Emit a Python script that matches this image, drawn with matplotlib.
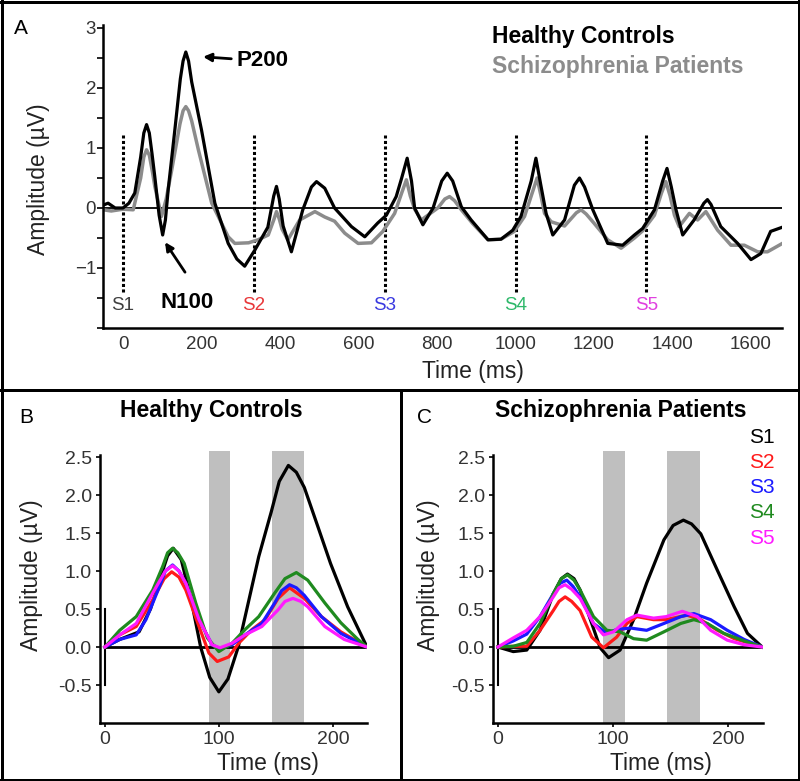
import matplotlib
matplotlib.use("Agg")
import matplotlib.pyplot as plt
from matplotlib.lines import Line2D
import numpy as np

plt.rcParams['font.family'] = ['Liberation Sans', 'DejaVu Sans']
plt.rcParams['lines.solid_joinstyle'] = 'round'

# Panel A: grand average waveforms (ms, uV)
hc_t = [-50, -38, -20, 0, 15, 30, 45, 53, 60, 67, 74, 81, 92, 101, 108, 115, 132, 146, 153,
        160, 167, 175, 200, 234, 268, 290, 310, 336, 369, 384, 391, 398, 408, 429, 458, 480,
        493, 514, 539, 582, 616, 649, 671, 696, 710, 724, 735, 743, 764, 790, 812, 826, 840,
        862, 887, 930, 963, 993, 1014, 1040, 1052, 1064, 1078, 1095, 1125, 1150, 1163, 1176,
        1197, 1235, 1273, 1303, 1324, 1354, 1375, 1386, 1397, 1409, 1426, 1455, 1480, 1489,
        1498, 1523, 1566, 1600, 1625, 1650, 1680]
hc_amp = [0.05, 0.08, 0.0, 0.0, 0.08, 0.25, 0.85, 1.25, 1.39, 1.25, 0.9, 0.52, -0.12, -0.45,
          -0.2, 0.3, 1.3, 2.15, 2.45, 2.6, 2.45, 2.1, 1.3, 0.08, -0.59, -0.85, -0.97, -0.7,
          -0.32, 0.2, 0.36, 0.15, -0.3, -0.73, -0.03, 0.35, 0.44, 0.33, 0.0, -0.31, -0.48,
          -0.25, -0.12, 0.19, 0.5, 0.83, 0.45, 0.0, -0.28, 0.0, 0.45, 0.58, 0.45, 0.02, -0.2,
          -0.53, -0.52, -0.37, -0.14, 0.45, 0.83, 0.4, -0.09, -0.45, -0.2, 0.38, 0.5, 0.35,
          -0.03, -0.59, -0.62, -0.45, -0.34, -0.03, 0.45, 0.66, 0.35, -0.03, -0.45, -0.2,
          0.08, 0.14, 0.06, -0.31, -0.59, -0.86, -0.76, -0.39, -0.32]

sz_t = [-50, -30, 0, 26, 45, 53, 60, 67, 75, 81, 98, 110, 124, 145, 153, 160, 167, 175, 192,
        226, 268, 285, 320, 344, 370, 384, 391, 398, 405, 420, 450, 489, 514, 539, 565, 599,
        633, 662, 692, 710, 722, 732, 743, 760, 802, 820, 832, 845, 862, 891, 930, 963, 997,
        1023, 1045, 1055, 1065, 1074, 1091, 1125, 1155, 1167, 1180, 1201, 1235, 1269, 1303,
        1324, 1354, 1372, 1383, 1394, 1405, 1417, 1443, 1464, 1485, 1515, 1549, 1583, 1617,
        1642, 1680]
sz_amp = [-0.03, -0.05, -0.02, -0.03, 0.5, 0.85, 0.97, 0.88, 0.6, 0.36, -0.14, 0.15, 0.63,
          1.4, 1.62, 1.69, 1.62, 1.45, 0.97, 0.08, -0.48, -0.59, -0.58, -0.53, -0.45, -0.2,
          -0.06, -0.18, -0.35, -0.53, -0.2, -0.06, -0.15, -0.22, -0.42, -0.59, -0.58, -0.39,
          -0.09, 0.25, 0.47, 0.2, -0.02, -0.2, 0.0, 0.15, 0.19, 0.12, -0.03, -0.26, -0.53,
          -0.52, -0.39, -0.14, 0.3, 0.5, 0.2, -0.09, -0.23, -0.3, -0.08, -0.03, -0.1, -0.26,
          -0.53, -0.67, -0.5, -0.38, -0.12, 0.25, 0.44, 0.2, -0.12, -0.31, -0.09, -0.2, -0.06,
          -0.37, -0.62, -0.62, -0.73, -0.73, -0.59]

stim_t = [0, 333, 667, 1000, 1333]
stim_labels = ["S1", "S2", "S3", "S4", "S5"]
stim_colors_a = ["#404040", "#e8383a", "#3a3ae0", "#2eb86a", "#e040e0"]

# Panels B/C: response to each stimulus (ms, uV)
hc_s = {
    "S1": ([0, 13, 30, 40, 48, 55, 60, 67, 76, 84, 92, 100, 108, 117, 135, 146, 153, 161, 168, 175, 187, 198, 213, 230],
           [0, 0.1, 0.2, 0.5, 0.88, 1.2, 1.3, 1.15, 0.6, 0.0, -0.4, -0.59, -0.42, 0.0, 1.19, 1.78, 2.18, 2.39, 2.3, 2.1, 1.58, 1.1, 0.53, 0]),
    "S2": ([0, 13, 27.5, 42, 52, 58.6, 65, 71, 82.6, 91.3, 98.6, 108.7, 117.4, 129, 140.6, 152, 162, 175, 190, 207, 230],
           [0, 0.16, 0.27, 0.62, 0.9, 0.99, 0.92, 0.75, 0.27, -0.08, -0.19, -0.13, 0.05, 0.23, 0.36, 0.64, 0.78, 0.64, 0.40, 0.2, 0]),
    "S3": ([0, 13, 27.5, 36, 48, 53, 59.4, 65, 71, 82.6, 94, 101, 111.6, 123, 137.7, 149, 155, 162, 168, 175, 190, 207, 230],
           [0, 0.1, 0.16, 0.36, 0.8, 1.0, 1.08, 1.0, 0.84, 0.36, 0.03, -0.02, 0.03, 0.16, 0.31, 0.58, 0.74, 0.82, 0.78, 0.68, 0.40, 0.18, 0]),
    "S4": ([0, 13, 27.5, 42, 50.7, 55, 59.4, 64, 69.6, 79.7, 89.9, 100, 111.6, 123, 135, 149, 158, 168, 178, 193, 207, 222, 230],
           [0, 0.22, 0.4, 0.75, 1.06, 1.24, 1.30, 1.24, 1.1, 0.58, 0.12, -0.06, 0.05, 0.23, 0.4, 0.71, 0.90, 0.98, 0.88, 0.58, 0.32, 0.1, 0]),
    "S5": ([0, 13, 27.5, 42, 53, 59.4, 65, 71, 82.6, 94, 101, 111.6, 123, 137.7, 152, 158, 165, 172, 178, 193, 210, 230],
           [0, 0.16, 0.31, 0.71, 1.0, 1.07, 1.0, 0.84, 0.36, 0.03, -0.01, 0.05, 0.16, 0.27, 0.49, 0.6, 0.64, 0.6, 0.53, 0.27, 0.1, 0]),
}
sz_s = {
    "S1": ([0, 13.3, 25, 36.5, 48, 55, 60.3, 66, 71.3, 81.4, 88.7, 96, 106, 117.7, 129, 144, 152, 160.9, 168, 176, 190.4, 205, 216.5, 229.3],
           [0, -0.06, -0.04, 0.22, 0.7, 0.9, 0.96, 0.9, 0.75, 0.31, -0.01, -0.14, -0.04, 0.36, 0.84, 1.41, 1.6, 1.67, 1.62, 1.49, 1.01, 0.53, 0.18, 0]),
    "S2": ([0, 13.3, 25, 36.5, 48, 53, 58.3, 64, 71.3, 81.4, 91.6, 103, 112, 120.6, 135, 146, 164, 176, 190.4, 205, 229.3],
           [0, 0.01, 0.01, 0.22, 0.48, 0.6, 0.66, 0.6, 0.48, 0.13, -0.01, 0.13, 0.31, 0.4, 0.36, 0.36, 0.42, 0.36, 0.22, 0.11, 0]),
    "S3": ([0, 13.3, 25, 36.5, 48, 54, 59.7, 65, 71.3, 82.9, 94.5, 103, 115, 129, 144, 158.6, 170, 184.6, 199, 213.6, 229.3],
           [0, 0.08, 0.17, 0.4, 0.7, 0.84, 0.88, 0.8, 0.66, 0.31, 0.18, 0.23, 0.25, 0.22, 0.31, 0.4, 0.44, 0.36, 0.22, 0.1, 0]),
    "S4": ([0, 13.3, 25, 36.5, 48, 55, 60.3, 66, 71.3, 82.9, 94.5, 106, 117.7, 129, 144, 158.6, 170, 181.7, 196, 213.6, 229.3],
           [0, 0.01, 0.06, 0.31, 0.7, 0.9, 0.95, 0.88, 0.75, 0.4, 0.22, 0.2, 0.11, 0.09, 0.2, 0.31, 0.36, 0.31, 0.18, 0.08, 0]),
    "S5": ([0, 13.3, 25, 36.5, 48, 53, 58.3, 64, 71.3, 82.9, 91.6, 100.3, 112, 120.6, 135, 146, 160, 173, 184.6, 199, 213.6, 229.3],
           [0, 0.12, 0.22, 0.4, 0.66, 0.78, 0.82, 0.76, 0.64, 0.31, 0.16, 0.2, 0.36, 0.42, 0.38, 0.40, 0.47, 0.40, 0.22, 0.09, 0.03, 0]),
}
s_colors = {"S1": "black", "S2": "#ff1a1a", "S3": "#1a1aff", "S4": "#1f8a1f", "S5": "#ff1aff"}
windows = [(91, 110), (147, 175)]  # N100 and P200 windows

tick_col = "#333333"
lab_size = 16.5
W, H = 800, 781

fig = plt.figure(figsize=(8, 7.81), dpi=100)


def fx(px):
    return px / W


def fy(py):
    return 1 - py / H


# ---------------- Panel A ----------------
axA = fig.add_axes([fx(103), fy(328), fx(782) - fx(103), fy(25) - fy(328)])
axA.set_xlim(-51, 1679)
axA.set_ylim(-2.0, 3.05)
axA.axhline(0, color="black", lw=1.3, zorder=1)
axA.plot(sz_t, sz_amp, color="#8c8c8c", lw=2.5, zorder=2)
axA.plot(hc_t, hc_amp, color="black", lw=2.3, zorder=3)
for t, lab, c in zip(stim_t, stim_labels, stim_colors_a):
    axA.plot([t, t], [-1.4, 1.22], color="black", lw=2.2, linestyle=(0, (1, 0.8)), zorder=1)
    axA.text(t, -1.62, lab, color=c, fontsize=13.5, ha="center", va="center")
axA.annotate("P200", xy=(204, 2.52), xytext=(290, 2.45), fontsize=16, fontweight="bold",
             va="center", ha="left",
             arrowprops=dict(arrowstyle="-|>", color="black", lw=2, shrinkA=2, shrinkB=0,
                             mutation_scale=12))
axA.annotate("", xy=(107, -0.57), xytext=(158, -1.07),
             arrowprops=dict(arrowstyle="-|>", color="black", lw=2, shrinkA=0, shrinkB=0,
                             mutation_scale=12))
axA.text(163, -1.57, "N100", fontsize=16, fontweight="bold", ha="center", va="center")
axA.set_xticks(range(0, 1601, 200))
axA.set_yticks([-1, 0, 1, 2, 3])
axA.set_yticks(np.arange(-2, 3.01, 0.5), minor=True)
axA.tick_params(axis="x", length=0, labelsize=13.5, labelcolor=tick_col, pad=6)
axA.tick_params(axis="y", length=4, width=1.2, labelsize=13.5, labelcolor=tick_col, pad=1)
axA.tick_params(axis="y", which="minor", length=4, width=1.2)
for s in ["top", "right"]:
    axA.spines[s].set_visible(False)
axA.spines["left"].set_linewidth(1.8)
axA.spines["bottom"].set_linewidth(1.8)
axA.set_xlabel("Time (ms)", fontsize=lab_size, color="#222222")
axA.xaxis.set_label_coords(0.545, -0.105)
axA.set_ylabel("Amplitude (µV)", fontsize=lab_size, color="#222222")
axA.yaxis.set_label_coords(-0.078, 0.49)
fig.text(fx(492), fy(37), "Healthy Controls", fontsize=16.5, fontweight="bold",
         color="black", va="center")
fig.text(fx(492), fy(67), "Schizophrenia Patients", fontsize=16.5, fontweight="bold",
         color="#8c8c8c", va="center")


# ---------------- Panels B and C ----------------
def erp_panel(left_px, right_px, series, title, title_x, letter, letter_x, ylab_x):
    ax = fig.add_axes([fx(left_px), fy(723), fx(right_px) - fx(left_px), fy(451) - fy(723)])
    ax.set_xlim(-4.3, 230)
    ax.set_ylim(-1.0, 2.58)
    for a, b in windows:
        ax.axvspan(a, b, color="#bfbfbf", lw=0, zorder=0)
    ax.plot([0, 228], [0, 0], color="black", lw=2, zorder=1)
    ax.plot([0, 0], [-0.5, 0.5], color="black", lw=1.5, zorder=1)
    for k in ["S1", "S2", "S3", "S4", "S5"]:
        t, a = series[k]
        ax.plot(t, a, color=s_colors[k], lw=2.3, zorder=2)
    ax.set_xticks([0, 100, 200])
    ax.set_yticks(np.arange(-0.5, 2.51, 0.5))
    ax.yaxis.set_major_formatter(matplotlib.ticker.FormatStrFormatter("%.1f"))
    ax.tick_params(length=3, width=1.2, labelsize=14, labelcolor=tick_col, pad=3)
    for s in ["top", "right"]:
        ax.spines[s].set_visible(False)
    ax.spines["left"].set_linewidth(1.8)
    ax.spines["left"].set_bounds(-1.0, 2.53)
    ax.spines["bottom"].set_linewidth(1.8)
    ax.set_xlabel("Time (ms)", fontsize=lab_size, color="#222222")
    ax.xaxis.set_label_coords(title_x[1], -0.105)
    ax.set_ylabel("Amplitude (µV)", fontsize=lab_size, color="#222222")
    ax.yaxis.set_label_coords(ylab_x, 0.544)
    fig.text(fx(title_x[0]), fy(411), title, fontsize=16.5, fontweight="bold",
             ha="center", va="center")
    fig.text(fx(letter_x), fy(418), letter, fontsize=15, ha="center", va="center")
    return ax


erp_panel(100, 367, hc_s, "Healthy Controls", (211, 0.63), "B", 26, -0.213)
erp_panel(493, 763, sz_s, "Schizophrenia Patients", (621, 0.622), "C", 425, -0.196)

legend_y = [437, 463, 488, 513, 539]
for k, y in zip(["S1", "S2", "S3", "S4", "S5"], legend_y):
    fig.text(fx(775), fy(y), k, color=s_colors[k], fontsize=15, ha="right", va="center")

fig.text(fx(21), fy(29), "A", fontsize=15, ha="center", va="center")

# panel borders
lw_b = 3 * 72 / 100
for xs, ys in [([0, W], [1.5, 1.5]), ([0, W], [H - 1.5, H - 1.5]),
               ([1.5, 1.5], [0, H]), ([W - 1.5, W - 1.5], [0, H]),
               ([0, W], [390, 390]), ([401, 401], [390, H])]:
    fig.add_artist(Line2D([fx(x) for x in xs], [fy(y) for y in ys], color="black",
                          lw=lw_b, transform=fig.transFigure))

fig.savefig("out.png", dpi=100)
